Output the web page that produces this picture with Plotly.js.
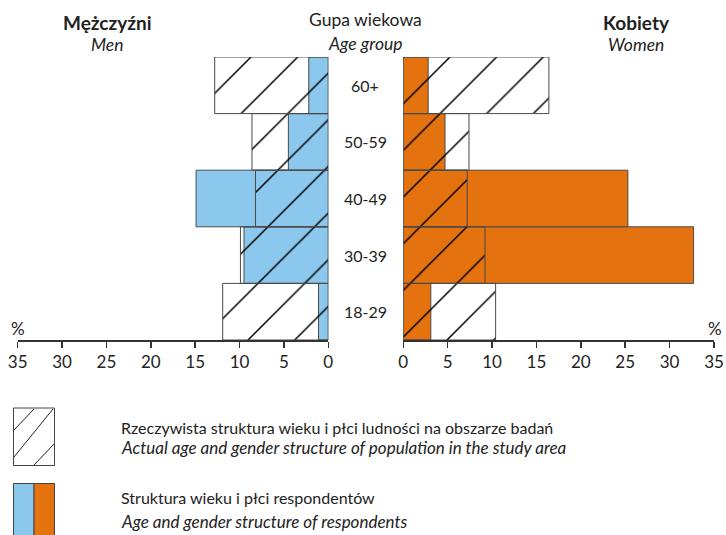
<!DOCTYPE html>
<html><head><meta charset="utf-8">
<script src="https://cdn.plot.ly/plotly-3.0.1.min.js"></script>
<style>html,body{margin:0;padding:0;background:#fff}#chart{width:726px;height:535px}</style>
</head><body><div id="chart"></div>
<script>
const ageGroups = ['18-29','30-39','40-49','50-59','60+'];
const menActual = [11.9, 9.9, 8.2, 8.6, 12.8];
const menRespondents = [1.1, 9.5, 14.9, 4.5, 2.2];
const womenActual = [10.4, 9.2, 7.2, 7.4, 16.4];
const womenRespondents = [3.1, 32.7, 25.3, 4.7, 2.8];
const axisTicks = [0,5,10,15,20,25,30,35];

const BLUE = '#8CC8EE', ORANGE = '#E3720F', EDGE = '#4a4a4a';
const FONT = 'Lato, "Open Sans", sans-serif';
const hatch = {shape:'/', fgcolor:'#000', bgcolor:'rgba(0,0,0,0)', size:33, solidity:0.045, fillmode:'replace'};

function filled(x, color, xa){ return {type:'bar', orientation:'h', y:ageGroups, x:x, xaxis:xa, yaxis:'y', width:1,
  marker:{color:color, line:{color:EDGE, width:1}}, hoverinfo:'skip', showlegend:false}; }
function hatched(x, xa){ return {type:'bar', orientation:'h', y:ageGroups, x:x, xaxis:xa, yaxis:'y', width:1,
  marker:{color:'rgba(0,0,0,0)', pattern:hatch, line:{color:EDGE, width:1}}, hoverinfo:'skip', showlegend:false}; }

const data = [
  filled(menRespondents, BLUE, 'x'), hatched(menActual, 'x'),
  filled(womenRespondents, ORANGE, 'x2'), hatched(womenActual, 'x2')
];

const axBase = {tickvals:axisTicks, ticks:'outside', ticklen:6, tickwidth:1.5, tickcolor:'#333',
  showline:true, linecolor:'#333', linewidth:2, showgrid:false, zeroline:false, fixedrange:true,
  tickfont:{family:FONT, size:17, color:'#222'}, anchor:'y'};

const TOP = 57, BOT = 340;
const px = v => v/726, py = v => (BOT - v)/(BOT - TOP);
const ann = [];
function txt(x, y, t, opt){ ann.push(Object.assign({xref:'paper', yref:'paper', x:px(x), y:py(y), text:t, showarrow:false,
  xanchor:'center', yanchor:'middle', font:{family:FONT, size:16, color:'#222'}}, opt||{})); }

const HF = {family:FONT, size:19, color:'#222'};
const SF = {family:FONT, size:17.5, color:'#222'};
txt(107, 22, '<b>Mężczyźni</b>', {font:HF});
txt(107, 45, '<i>Men</i>', {font:SF});
txt(365, 20, 'Gupa wiekowa', {font:SF});
txt(365, 43, '<i>Age group</i>', {font:SF});
txt(636, 22, '<b>Kobiety</b>', {font:HF});
txt(636, 45, '<i>Women</i>', {font:SF});
txt(18, 328, '%', {font:{family:FONT, size:17, color:'#222'}});
txt(706, 328, '%', {xanchor:'left', font:{family:FONT, size:17, color:'#222'}});
ageGroups.forEach(g => ann.push({xref:'paper', yref:'y', x:px(365), y:g, text:g, showarrow:false,
  xanchor:'center', yanchor:'middle', font:{family:FONT, size:16, color:'#222'}}));
const LF = {family:FONT, size:16, color:'#222'};
const LIF = {family:FONT, size:17, color:'#222'};
txt(119, 427, 'Rzeczywista struktura wieku i płci ludności na obszarze badań', {xanchor:'left', font:LF});
txt(119, 447, '<i>Actual age and gender structure of population in the study area</i>', {xanchor:'left', font:LIF});
txt(119, 497, 'Struktura wieku i płci respondentów', {xanchor:'left', font:LF});
txt(119, 521, '<i>Age and gender structure of respondents</i>', {xanchor:'left', font:LIF});

const shp = [];
function line(x0,y0,x1,y1){ shp.push({type:'line', xref:'paper', yref:'paper', line:{color:'#222', width:1},
  x0:px(x0), y0:py(y0), x1:px(x1), y1:py(y1)}); }
function rect(x0,y0,x1,y1,fill){ shp.push({type:'rect', xref:'paper', yref:'paper', x0:px(x0), x1:px(x1), y0:py(y0), y1:py(y1),
  line:{color:'#444', width:1}, fillcolor:fill}); }
rect(13.5, 408, 54.5, 465.5, 'rgba(0,0,0,0)');
line(14, 430, 34, 409);
line(14, 457, 53, 409);
line(34, 465, 54, 444);
rect(13.5, 483.5, 34, 540, BLUE);
rect(34, 483.5, 54.5, 540, ORANGE);

const layout = {
  width:726, height:535, margin:{l:0, r:0, t:TOP, b:535-BOT}, paper_bgcolor:'#fff', plot_bgcolor:'rgba(0,0,0,0)',
  barmode:'overlay', bargap:0, showlegend:false,
  xaxis:Object.assign({}, axBase, {domain:[17.7/726, 328.3/726], range:[35,0]}),
  xaxis2:Object.assign({}, axBase, {domain:[403.3/726, 714/726], range:[0,35]}),
  yaxis:{type:'category', categoryorder:'array', categoryarray:ageGroups, range:[-0.5,4.5],
    showticklabels:false, showline:false, showgrid:false, zeroline:false, ticks:'', fixedrange:true, anchor:'x'},
  annotations:ann, shapes:shp
};
Plotly.newPlot('chart', data, layout, {staticPlot:true, displayModeBar:false});
</script></body></html>
